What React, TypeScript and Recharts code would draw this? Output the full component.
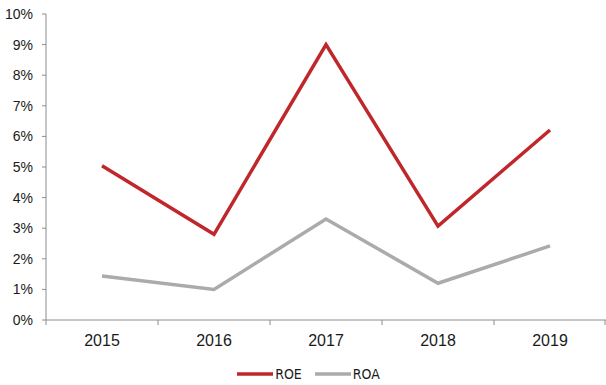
import React from 'react';
import { LineChart, Line, XAxis, YAxis, Legend } from 'recharts';

const years = ['2015', '2016', '2017', '2018', '2019'];
const roe = [5.04, 2.8, 9.0, 3.07, 6.21];
const roa = [1.44, 1.0, 3.3, 1.2, 2.42];
const yTicks = [0, 1, 2, 3, 4, 5, 6, 7, 8, 9, 10];

const RED = '#C0272B';
const GRAY = '#ABABAB';
const AXIS = '#8C8C8C';

const data = years.map((y, i) => ({ year: y, ROE: roe[i], ROA: roa[i] }));

// Category label plus a tick mark on each band boundary
const XTick = (props: any) => {
  const { x, y, payload, index, visibleTicksCount } = props;
  const half = payload && payload.offset ? payload.offset : 56;
  const last = index === visibleTicksCount - 1;
  return (
    <g>
      <line x1={x - half} x2={x - half} y1={y - 8} y2={y - 3} stroke={AXIS} strokeWidth={1} />
      {last && <line x1={x + half - 1} x2={x + half - 1} y1={y - 8} y2={y - 3} stroke={AXIS} strokeWidth={1} />}
      <text x={x} y={y + 18} textAnchor="middle" fill="#1a1a1a" fontSize={16} fontFamily="Liberation Sans, Arial, sans-serif">
        {payload.value}
      </text>
    </g>
  );
};

const LegendContent = () => {
  const items = [
    { name: 'ROE', color: RED },
    { name: 'ROA', color: GRAY },
  ];
  return (
    <div style={{ display: 'flex', justifyContent: 'center', paddingLeft: 22, paddingTop: 8 }}>
      {items.map((it) => (
        <div key={it.name} style={{ display: 'flex', alignItems: 'center', marginRight: 12 }}>
          <svg width={38} height={10}>
            <line x1={1} x2={37} y1={5} y2={5} stroke={it.color} strokeWidth={3.5} />
          </svg>
          <span style={{ fontFamily: 'DejaVu Sans Condensed, DejaVu Sans, sans-serif', fontSize: 14, color: '#1a1a1a', marginLeft: 1 }}>
            {it.name}
          </span>
        </div>
      ))}
    </div>
  );
};

export default function App() {
  return (
    <div style={{ position: 'absolute', left: 0, top: 0, background: '#fff' }}>
      <LineChart width={606} height={385} data={data} margin={{ top: 14, right: 0, left: 0, bottom: 0 }}>
        <XAxis
          dataKey="year"
          scale="band"
          stroke={AXIS}
          tickLine={false}
          tick={<XTick />}
          height={38}
          interval={0}
        />
        <YAxis
          domain={[0, 10]}
          ticks={yTicks}
          width={46}
          stroke={AXIS}
          tickSize={4}
          tickMargin={9}
          tickFormatter={(v: number) => `${v}%`}
          tick={{ fill: '#1a1a1a', fontSize: 14, fontFamily: 'Liberation Sans, Arial, sans-serif' }}
          interval={0}
        />
        <Legend verticalAlign="bottom" height={27} content={<LegendContent />} />
        <Line type="linear" dataKey="ROE" stroke={RED} strokeWidth={3.5} dot={false} isAnimationActive={false} />
        <Line type="linear" dataKey="ROA" stroke={GRAY} strokeWidth={3.5} dot={false} isAnimationActive={false} />
      </LineChart>
    </div>
  );
}
